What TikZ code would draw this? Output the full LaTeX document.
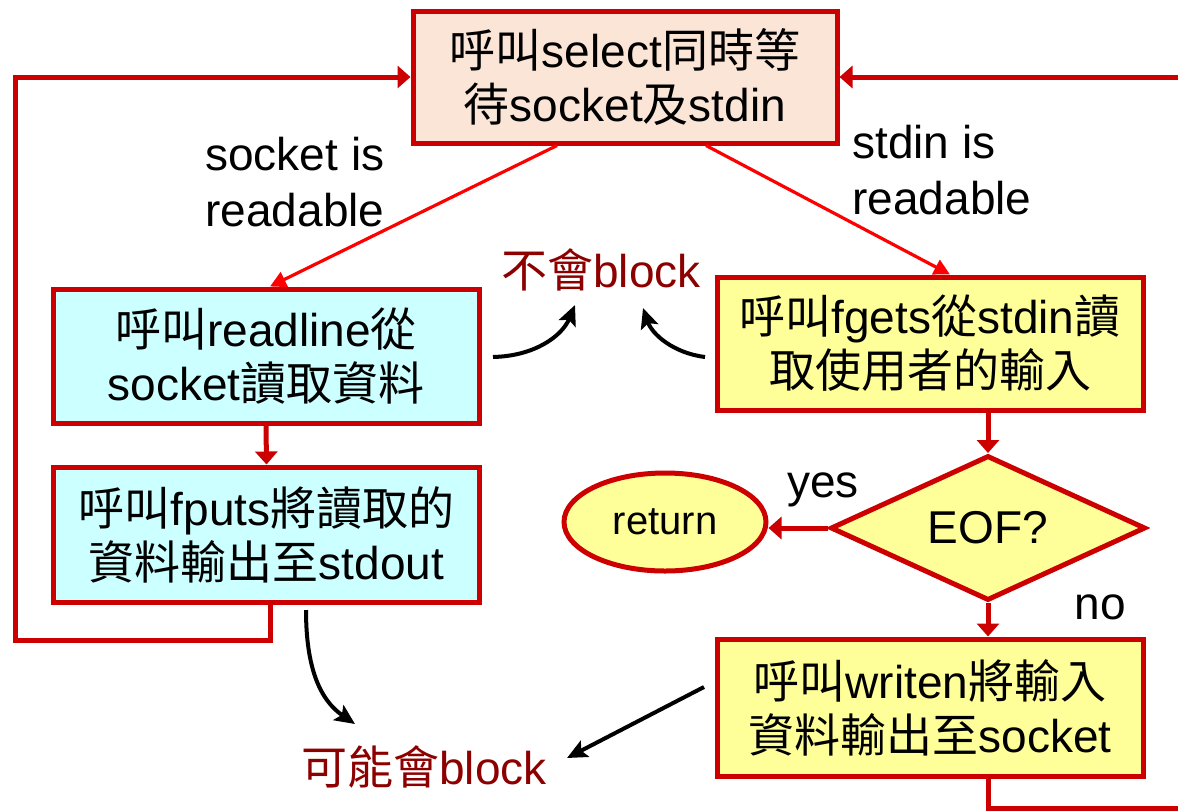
\documentclass[tikz,border=0pt]{standalone}
\usepackage{fontspec}
\setmainfont{Liberation Sans}
\newfontfamily\cjk{Noto Sans CJK TC}
\usetikzlibrary{arrows.meta,shapes.geometric}
\newcommand{\zh}[1]{{\cjk #1}}
\newcommand{\bigtxt}{\fontsize{23}{27}\selectfont}
\definecolor{boxred}{RGB}{204,0,0}
\definecolor{peach}{RGB}{251,229,214}
\definecolor{aqua}{RGB}{204,255,255}
\definecolor{ylw}{RGB}{255,255,153}
\definecolor{warnred}{RGB}{140,0,0}
\tikzset{
  proc/.style={draw=boxred, line width=2.5pt, inner sep=0pt, align=center,
    font=\bigtxt, minimum width=213pt, minimum height=67pt},
  flow/.style={draw=boxred, line width=2.5pt, -{Triangle[length=6.5pt,width=11pt]}},
  branch/.style={draw=red, line width=1.6pt, -{Triangle[length=8pt,width=8pt]}},
  hint/.style={draw=black, line width=2pt, -{Stealth[length=10pt,width=9pt,inset=2pt]}},
  lbl/.style={font=\bigtxt, text=black, inner sep=0pt},
  warn/.style={font=\bigtxt, text=warnred, inner sep=0pt},
}
\begin{document}
\begin{tikzpicture}[x=0.5pt,y=-0.5pt]
\useasboundingbox (0,0) rectangle (1178,810);
\fill[white] (0,0) rectangle (1178,810);
\clip (0,0) rectangle (1178,810);

% process boxes
\node[proc, fill=peach, minimum width=212pt, minimum height=66pt] (top) at (625,77)
  {\zh{呼叫}select\zh{同時等}\\\zh{待}socket\zh{及}stdin};
\node[proc, fill=aqua] (sock) at (266,356)
  {\zh{呼叫}readline\zh{從}\\socket\zh{讀取資料}};
\node[proc, fill=aqua, minimum height=67.5pt] (fputs) at (266.5,534.5)
  {\zh{呼叫}fputs\zh{將讀取的}\\\zh{資料輸出至}stdout};
\node[proc, fill=ylw, minimum height=66.5pt] (fgets) at (930,343.5)
  {\zh{呼叫}fgets\zh{從}stdin\zh{讀}\\\zh{取使用者的輸入}};
\node[proc, fill=ylw, minimum height=68.5pt] (writen) at (930,707.5)
  {\zh{呼叫}writen\zh{將輸入}\\\zh{資料輸出至}socket};

% decision and end
\node[diamond, draw=boxred, fill=ylw, line width=2.5pt, inner sep=0pt,
  minimum width=157.5pt, minimum height=72.5pt] (eof) at (988,528) {};
\node[lbl] at (eof) {EOF?};
\node[ellipse, draw=boxred, fill=ylw, line width=2.5pt, inner sep=0pt,
  minimum width=101pt, minimum height=49pt, font=\fontsize{20}{24}\selectfont] (ret) at (665,522) {return};

% labels
\node[lbl, anchor=west, align=left] (sockrd) at (205,182) {socket is\\[1pt]readable};
\node[lbl, anchor=west, align=left] (stdinrd) at (852,170) {stdin is\\[1pt]readable};
\node[warn] (noblk) at (601,270) {\zh{不會}block};
\node[warn] (mayblk) at (424,767) {\zh{可能會}block};
\node[lbl] (yes) at (823,490) {yes};
\node[lbl] (no) at (1100,607) {no};

% main flow
\draw[branch] ([xshift=-34pt]top.south) -- ([xshift=2pt]sock.north);
\draw[branch] ([xshift=40.5pt]top.south) -- ([xshift=10pt]fgets.north);
\draw[flow] (sock.south) -- (fputs.north);
\draw[flow] (fgets.south -| eof.north) -- (eof.north);
\draw[flow] (eof.west) -- (eof.west -| ret.east);
\draw[flow] (eof.south) -- (eof.south |- writen.north);

% loops back to select
\coordinate (lcorner) at (15,640);
\draw[flow] ([xshift=1.75pt]fputs.south) |- (lcorner) |- (top.west);
\coordinate (rcorner) at (1195,808);
\draw[flow] (writen.south -| eof.south) |- (rcorner) |- (top.east);

% blocking notes
\coordinate (n1s) at (493,357);
\coordinate (n1e) at (575,305);
\coordinate (n2s) at (705,357);
\coordinate (n2e) at (643,308);
\coordinate (n3s) at (306,610);
\coordinate (n3e) at (355,724);
\coordinate (n4s) at (704,687);
\coordinate (n4e) at (567,758);
\draw[hint] (n1s) .. controls (535,356) and (562,336) .. (n1e);
\draw[hint] (n2s) .. controls (673,353) and (652,334) .. (n2e);
\draw[hint] (n3s) .. controls (306,668) and (320,700) .. (n3e);
\draw[hint] (n4s) -- (n4e);
\end{tikzpicture}
\end{document}
